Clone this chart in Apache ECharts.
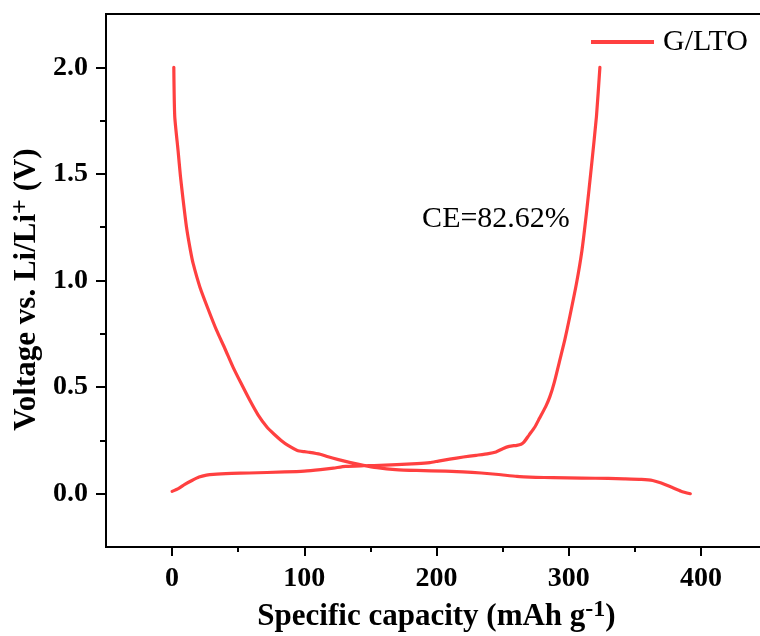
<!DOCTYPE html>
<html>
<head>
<meta charset="utf-8">
<script src="https://cdn.jsdelivr.net/npm/echarts@6/dist/echarts.min.js"></script>
<style>html,body{margin:0;padding:0;background:#fff}#c{width:760px;height:636px}</style>
</head>
<body>
<div id="c"></div>
<script>
// Discharge branch (capacity mAh/g, voltage V)
var dischargeCap = [1.3,2.0,4.5,6.3,8.3,10.9,13.9,15.9,21,27,33.6,40,46,52,58.8,65,71.7,77,82.5,88,94.7,100,104,112,118,125.8,135,144.7,155,169,185,206.8,220,233.8,247,260.8,275,287.9,310,330,341.9,355,363.5,370,378,385,392];
var dischargeV   = [2.0,1.77,1.61,1.49,1.38,1.25,1.14,1.08,0.97,0.87,0.767,0.68,0.595,0.52,0.438,0.37,0.313,0.28,0.25,0.225,0.203,0.197,0.194,0.185,0.173,0.16,0.146,0.133,0.122,0.113,0.109,0.106,0.102,0.097,0.09,0.081,0.077,0.075,0.073,0.072,0.07,0.067,0.062,0.05,0.03,0.012,0.0];
// Charge branch
var chargeCap = [0,5,9.6,15,20.4,26,31.2,45,58.2,85.3,100,112.3,122,131.2,145,152.8,170,185.2,195,201.4,210,220.3,230,239.3,245,250.1,255,260.8,264,266.3,270,274.4,278,282.5,285.7,289,293,297,300.8,305.9,310,313.5,317.2,321,323.6];
var chargeV   = [0.011,0.025,0.044,0.062,0.078,0.087,0.091,0.095,0.097,0.102,0.106,0.113,0.12,0.128,0.131,0.132,0.136,0.141,0.146,0.153,0.162,0.172,0.18,0.188,0.196,0.211,0.222,0.227,0.232,0.243,0.275,0.313,0.355,0.407,0.454,0.52,0.62,0.72,0.83,0.987,1.14,1.32,1.535,1.77,2.0];

var seriesName = 'G/LTO';
var xMajorTicks = [0,100,200,300,400];
var xMinorTicks = [50,150,250,350,450];
var yMajorTicks = [0,0.5,1.0,1.5,2.0];
var yMinorTicks = [0.25,0.75,1.25,1.75];
var annotationText = 'CE=82.62%';
var annotationAt = [245, 1.29];

var data = [];
for (var i = 0; i < dischargeCap.length; i++) data.push([dischargeCap[i], dischargeV[i]]);
data.push('-');
for (var j = 0; j < chargeCap.length; j++) data.push([chargeCap[j], chargeV[j]]);

var FONT = 'Liberation Serif';
var RED = '#ff4040';
var chart = echarts.init(document.getElementById('c'), null, {renderer: 'canvas'});

var xName = '{t|Specific capacity (mAh g}{s|-1}{t|)}';
var yName = '{t|Voltage vs. Li/Li}{s|+}{t| (V)}';
var richX = {
  t: {fontFamily: FONT, fontWeight: 'bold', fontSize: 31, lineHeight: 38, color: '#000'},
  s: {fontFamily: FONT, fontWeight: 'bold', fontSize: 24, lineHeight: 24, verticalAlign: 'top', color: '#000'}
};
var richY = {
  t: {fontFamily: FONT, fontWeight: 'bold', fontSize: 31, lineHeight: 36, color: '#000'},
  s: {fontFamily: FONT, fontWeight: 'bold', fontSize: 26, lineHeight: 24, verticalAlign: 'top', color: '#000'}
};

chart.setOption({
  animation: false,
  backgroundColor: '#fff',
  grid: {left: 106, top: 14, right: -7, bottom: 89, show: true, borderColor: '#000', borderWidth: 2,
         containLabel: false, outerBoundsMode: 'none'},
  legend: {
    data: [{name: seriesName, icon: 'rect'}],
    left: 586, top: 22,
    itemWidth: 63, itemHeight: 4,
    itemStyle: {color: RED},
    textStyle: {fontFamily: FONT, fontSize: 30, color: '#000', padding: [0,0,0,4]}
  },
  xAxis: [{
    type: 'value', min: -50, max: 450, interval: 50,
    name: xName, nameLocation: 'middle', nameGap: 46,
    nameTextStyle: {rich: richX},
    axisLine: {show: true, onZero: false, lineStyle: {color: '#000', width: 2}},
    axisTick: {show: true, inside: false, length: 9, lineStyle: {color: '#000', width: 2}, customValues: xMajorTicks},
    axisLabel: {show: true, margin: 18, fontFamily: FONT, fontWeight: 'bold', fontSize: 28, color: '#000', customValues: xMajorTicks},
    splitLine: {show: false}
  }, {
    type: 'value', min: -50, max: 450, interval: 50, position: 'bottom',
    axisLine: {show: false, onZero: false},
    axisTick: {show: true, length: 5, lineStyle: {color: '#000', width: 2}, customValues: xMinorTicks},
    axisLabel: {show: false},
    splitLine: {show: false}
  }],
  yAxis: [{
    type: 'value', min: -0.25, max: 2.25, interval: 0.25,
    name: yName, nameLocation: 'middle', nameGap: 45,
    nameTextStyle: {rich: richY, padding: [0, 18, 0, 0]},
    axisLine: {show: true, onZero: false, lineStyle: {color: '#000', width: 2}},
    axisTick: {show: true, length: 10, lineStyle: {color: '#000', width: 2}, customValues: yMajorTicks},
    axisLabel: {show: true, margin: 18, fontFamily: FONT, fontWeight: 'bold', fontSize: 28, color: '#000', customValues: yMajorTicks,
      formatter: function (v) { return v.toFixed(1); }},
    splitLine: {show: false}
  }, {
    type: 'value', min: -0.25, max: 2.25, interval: 0.25, position: 'left',
    axisLine: {show: false, onZero: false},
    axisTick: {show: true, length: 6, lineStyle: {color: '#000', width: 2}, customValues: yMinorTicks},
    axisLabel: {show: false},
    splitLine: {show: false}
  }],
  series: [{
    name: seriesName, type: 'line', data: data,
    xAxisIndex: 0, yAxisIndex: 0,
    showSymbol: false, symbol: 'none',
    smooth: 0.2, connectNulls: false,
    lineStyle: {color: RED, width: 3.2, cap: 'round', join: 'round'},
    itemStyle: {color: RED}
  }]
});

var p = chart.convertToPixel({gridIndex: 0}, annotationAt);
chart.setOption({
  graphic: [{
    type: 'text', x: p[0], y: p[1],
    style: {text: annotationText, fontFamily: FONT, fontSize: 30, fill: '#000', align: 'center', verticalAlign: 'middle'}
  }]
});
</script>
</body>
</html>
